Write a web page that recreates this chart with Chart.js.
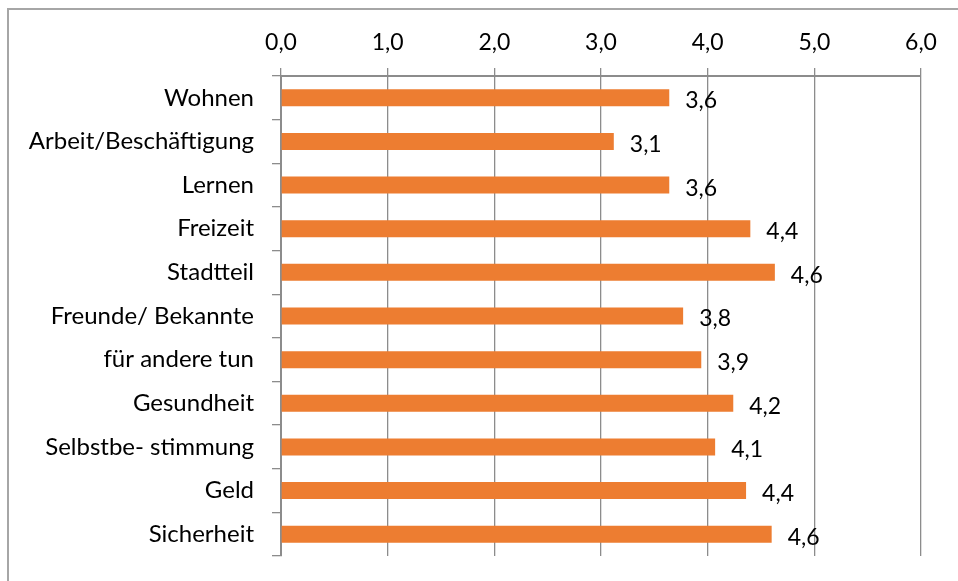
<!DOCTYPE html>
<html>
<head>
<meta charset="utf-8">
<script src="https://cdn.jsdelivr.net/npm/chart.js@4/dist/chart.umd.min.js"></script>
<style>
  html, body { margin: 0; padding: 0; background: #fff; }
  #wrap { position: relative; width: 958px; height: 581px; }
  #frame { position: absolute; left: 7px; top: 8px; right: -5px; bottom: -5px;
           border-left: 2px solid #a6a6a6; border-top: 2px solid #a6a6a6; }
  canvas { position: absolute; left: 0; top: 0; }
</style>
</head>
<body>
<div id="wrap">
  <div id="frame"></div>
  <canvas id="chart" width="958" height="581"></canvas>
</div>
<script>
const categories = ['Wohnen', 'Arbeit/Beschäftigung', 'Lernen', 'Freizeit', 'Stadtteil',
    'Freunde/ Bekannte', 'für andere tun', 'Gesundheit', 'Selbstbe- stimmung', 'Geld', 'Sicherheit'];
const values = [3.64, 3.12, 3.64, 4.40, 4.63, 3.77, 3.94, 4.24, 4.07, 4.36, 4.60];
const axisMax = 6;

const fmt = v => v.toFixed(1).replace('.', ',');
const FONT = 'Lato';

// value labels to the right of each bar
const valueLabels = {
    id: 'valueLabels',
    afterDatasetsDraw(chart) {
        const ctx = chart.ctx;
        const meta = chart.getDatasetMeta(0);
        ctx.save();
        ctx.font = '23px ' + FONT;
        ctx.fillStyle = '#000';
        ctx.textAlign = 'left';
        ctx.textBaseline = 'middle';
        meta.data.forEach((bar, i) => {
            ctx.fillText(fmt(values[i]), bar.x + 16, bar.y + 3);
        });
        ctx.restore();
    }
};

new Chart(document.getElementById('chart'), {
    type: 'bar',
    data: {
        labels: categories,
        datasets: [{
            data: values,
            backgroundColor: '#ED7D31',
            borderWidth: 0,
            categoryPercentage: 1,
            barPercentage: 0.39
        }]
    },
    options: {
        indexAxis: 'y',
        responsive: false,
        animation: false,
        layout: { padding: { left: 8, top: 20, right: 37, bottom: 25 } },
        scales: {
            x: {
                position: 'top',
                min: 0,
                max: axisMax,
                ticks: {
                    stepSize: 1,
                    padding: 12,
                    color: '#000',
                    font: { family: FONT, size: 23 },
                    callback: v => fmt(v)
                },
                grid: { color: '#8c8c8c', lineWidth: 1.3, tickLength: 8 },
                border: { color: '#8c8c8c', width: 2 },
                afterFit: s => { s.height = 56; }
            },
            y: {
                ticks: {
                    color: '#000',
                    padding: 18,
                    font: { family: FONT, size: 24 }
                },
                grid: { drawOnChartArea: false, color: '#8c8c8c', lineWidth: 1.3, tickLength: 9 },
                border: { color: '#8c8c8c', width: 2 },
                afterFit: s => { s.width = 273; s.paddingTop = 0; s.paddingBottom = 0; }
            }
        },
        plugins: {
            legend: { display: false },
            tooltip: { enabled: false }
        }
    },
    plugins: [valueLabels]
});
</script>
</body>
</html>
